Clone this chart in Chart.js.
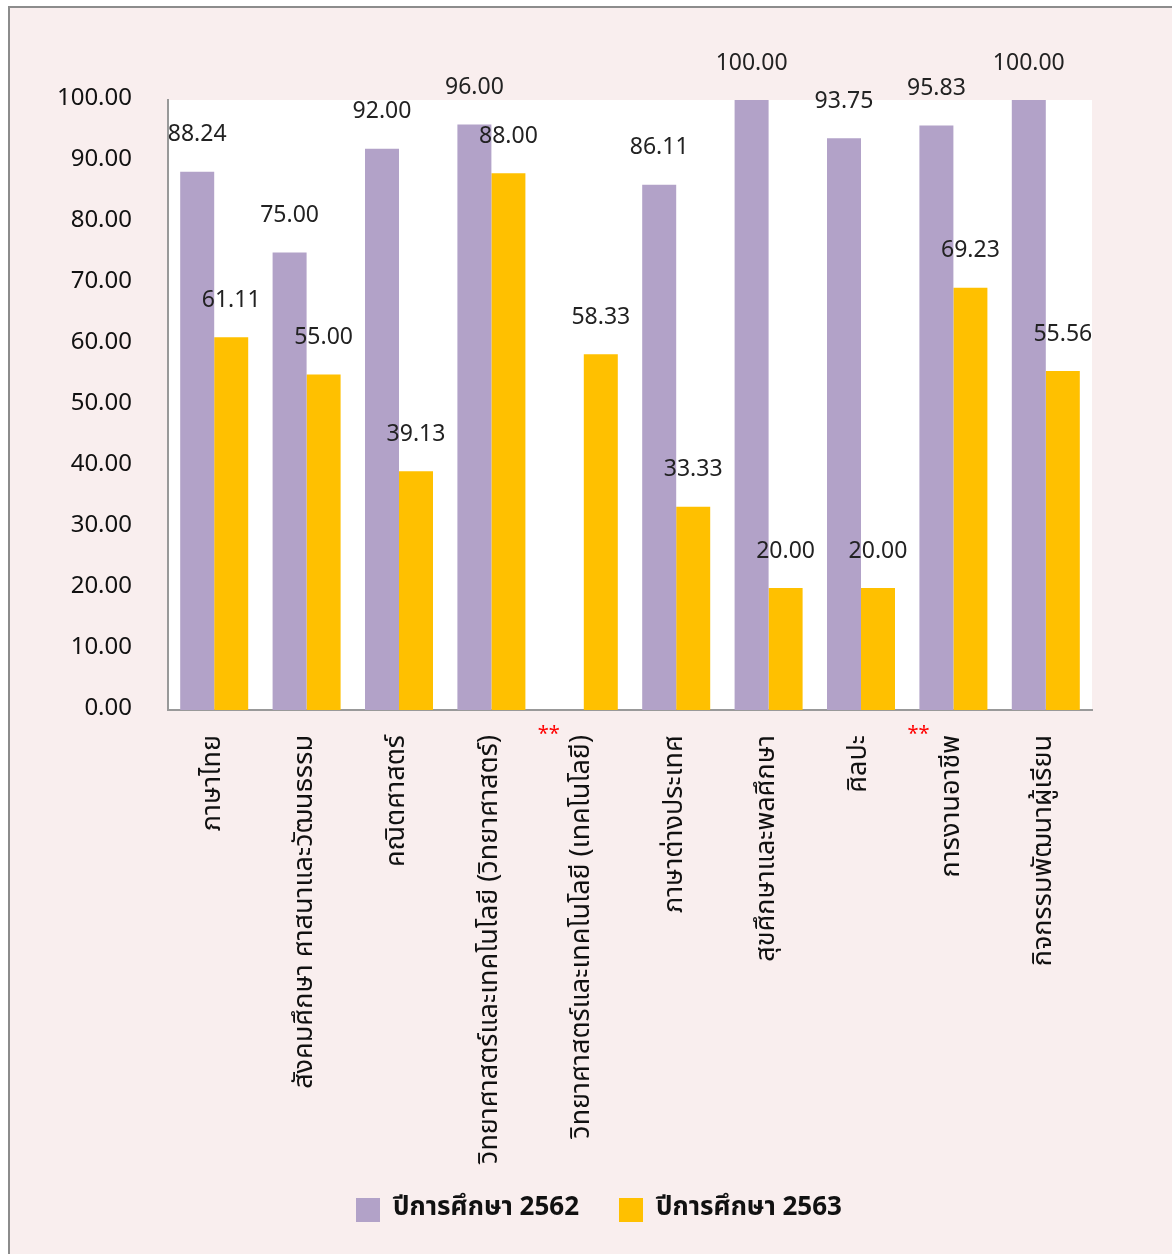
<!DOCTYPE html>
<html>
<head>
<meta charset="utf-8">
<script src="https://cdn.jsdelivr.net/npm/chart.js@4.4.1/dist/chart.umd.min.js"></script>
<style>
    body { margin: 0; background: #ffffff; }
    #frame {
        position: absolute; left: 8px; top: 6px; width: 1180px; height: 1260px;
        border-left: 2px solid #8c8c8c; border-top: 2px solid #8c8c8c;
        background: #f9eeee;
    }
    #chart { position: absolute; left: 0; top: 0; }
</style>
</head>
<body>
<div id="frame"></div>
<canvas id="chart" width="1172" height="1254"></canvas>
<script>
// 學科類別
const categories = [
    "ภาษาไทย",
    "สังคมศึกษา ศาสนาและวัฒนธรรม",
    "คณิตศาสตร์",
    "วิทยาศาสตร์และเทคโนโลยี (วิทยาศาสตร์)",
    "วิทยาศาสตร์และเทคโนโลยี (เทคโนโลยี)",
    "ภาษาต่างประเทศ",
    "สุขศึกษาและพลศึกษา",
    "ศิลปะ",
    "การงานอาชีพ",
    "กิจกรรมพัฒนาผู้เรียน"
];
const values2562 = [88.24, 75.00, 92.00, 96.00, null, 86.11, 100.00, 93.75, 95.83, 100.00];
const values2563 = [61.11, 55.00, 39.13, 88.00, 58.33, 33.33, 20.00, 20.00, 69.23, 55.56];
const seriesLabels = ["ปีการศึกษา 2562", "ปีการศึกษา 2563"];
const markedCategories = [4, 8];   // 標記 ** 的類別

const fontFamily = 'Tahoma, "Noto Sans Thai", "Noto Sans", sans-serif';
const colors = ["#b2a2c8", "#ffc000"];

// 白色繪圖區背景
const plotBackground = {
    id: "plotBackground",
    beforeDraw(chart) {
        const { ctx, chartArea } = chart;
        ctx.save();
        ctx.fillStyle = "#ffffff";
        ctx.fillRect(chartArea.left, chartArea.top, chartArea.right - chartArea.left, chartArea.bottom - chartArea.top);
        ctx.restore();
    }
};

// 長條上方數值
const valueLabels = {
    id: "valueLabels",
    afterDatasetsDraw(chart) {
        const ctx = chart.ctx;
        ctx.save();
        ctx.font = "23px " + fontFamily;
        ctx.fillStyle = "#222222";
        ctx.textAlign = "center";
        ctx.textBaseline = "middle";
        chart.data.datasets.forEach((ds, di) => {
            chart.getDatasetMeta(di).data.forEach((bar, i) => {
                const v = ds.data[i];
                if (v === null || v === undefined) return;
                ctx.fillText(v.toFixed(2), bar.x, bar.y - 35);
            });
        });
        ctx.restore();
    }
};

// 紅色 ** 標記
const starMarks = {
    id: "starMarks",
    afterDraw(chart) {
        const ctx = chart.ctx;
        const xScale = chart.scales.x;
        ctx.save();
        ctx.font = "20px " + fontFamily;
        ctx.fillStyle = "#ff0000";
        ctx.textAlign = "center";
        ctx.textBaseline = "middle";
        markedCategories.forEach(i => {
            ctx.fillText("**", xScale.getPixelForValue(i) - 35, chart.chartArea.bottom + 26);
        });
        ctx.restore();
    }
};

// 圖例位置微調
const legendShift = {
    id: "legendShift",
    afterLayout(chart) {
        chart.legend.left += 53;
        chart.legend.right += 53;
        chart.legend.top -= 8;
        chart.legend.bottom -= 8;
    }
};

new Chart(document.getElementById("chart").getContext("2d"), {
    type: "bar",
    data: {
        labels: categories,
        datasets: [
            {
                label: seriesLabels[0],
                data: values2562,
                backgroundColor: colors[0],
                barPercentage: 1,
                categoryPercentage: 0.736,
            },
            {
                label: seriesLabels[1],
                data: values2563,
                backgroundColor: colors[1],
                barPercentage: 1,
                categoryPercentage: 0.736,
            },
        ],
    },
    options: {
        responsive: false,
        animation: false,
        layout: {
            padding: { top: 100, right: 80, left: 0, bottom: 13 },
        },
        scales: {
            x: {
                grid: { display: false },
                border: { color: "#999999", width: 2 },
                ticks: {
                    minRotation: 90,
                    maxRotation: 90,
                    autoSkip: false,
                    padding: 17,
                    color: "#111111",
                    font: { size: 27, family: fontFamily },
                },
                afterFit(scale) {
                    scale.height = 455;
                },
            },
            y: {
                min: 0,
                max: 100,
                grid: { display: false },
                border: { color: "#999999", width: 2 },
                ticks: {
                    stepSize: 10,
                    padding: 28,
                    color: "#111111",
                    font: { size: 24, family: fontFamily },
                    callback: value => value.toFixed(2),
                },
                afterFit(scale) {
                    scale.width = 168;
                },
            },
        },
        plugins: {
            legend: {
                position: "bottom",
                labels: {
                    boxWidth: 24,
                    boxHeight: 24,
                    padding: 40,
                    color: "#111111",
                    font: { size: 26, weight: "bold", family: fontFamily },
                },
            },
            tooltip: { enabled: false },
        },
    },
    plugins: [plotBackground, valueLabels, starMarks, legendShift],
});
</script>
</body>
</html>
